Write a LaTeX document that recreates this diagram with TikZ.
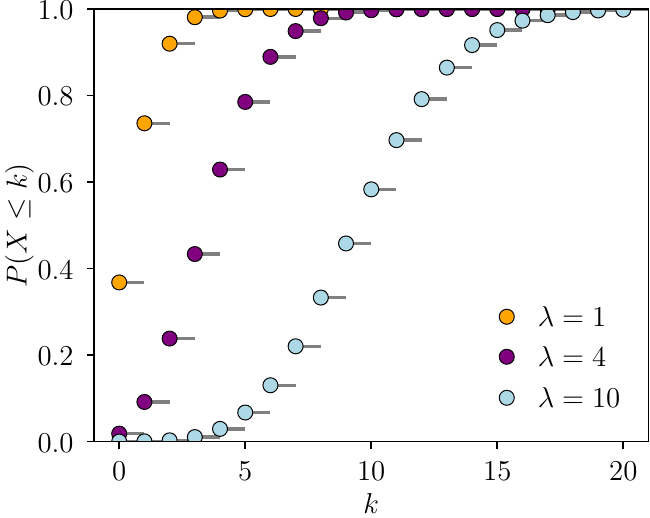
\documentclass[tikz,border=0pt]{standalone}
\definecolor{cOrange}{HTML}{FFA500}
\definecolor{cPurple}{HTML}{800080}
\definecolor{cBlue}{HTML}{ADD8E6}
\definecolor{gray50}{HTML}{808080}
\begin{document}
\begin{tikzpicture}[x=12.6pt,y=216.25pt,
  every node/.style={font=\fontsize{14.4}{17}\selectfont},
  mk/.style={circle,draw=black,line width=0.5pt,inner sep=0pt,minimum size=7.5pt},
  stem/.style={draw=gray50,line width=1.7pt},
  spine/.style={line width=0.8pt,line cap=rect},
  tickmark/.style={line width=0.8pt},
  lab/.style={inner sep=0pt}]
\useasboundingbox (-4.730,-0.17457) rectangle (21.06,1.0208);
\coordinate (ll) at (-1,0);
\coordinate (ur) at (21,1);
\begin{scope}
\clip (ll) rectangle (ur);
% lambda = 1
\foreach \k/\v in {0/0.367879,1/0.735759,2/0.919699,3/0.981012,4/0.996340,5/0.999406,6/0.999917,7/0.999990,8/0.999999,9/1.0,10/1.0,11/1.0,12/1.0,13/1.0,14/1.0,15/1.0,16/1.0,17/1.0,18/1.0,19/1.0,20/1.0}{
  \coordinate (oe\k) at ({\k+1},\v);
  \draw[stem] (\k,\v) -- (oe\k);
  \node[mk,fill=cOrange] (o\k) at (\k,\v) {};
}
% lambda = 4
\foreach \k/\v in {0/0.018316,1/0.091578,2/0.238103,3/0.433470,4/0.628837,5/0.785130,6/0.889326,7/0.948866,8/0.978637,9/0.991868,10/0.997160,11/0.999085,12/0.999726,13/0.999924,14/0.999980,15/0.999995,16/0.999999,17/1.0,18/1.0,19/1.0,20/1.0}{
  \coordinate (pe\k) at ({\k+1},\v);
  \draw[stem] (\k,\v) -- (pe\k);
  \node[mk,fill=cPurple] (p\k) at (\k,\v) {};
}
% lambda = 10
\foreach \k/\v in {0/0.0000454,1/0.000499,2/0.002769,3/0.010336,4/0.029253,5/0.067086,6/0.130141,7/0.220220,8/0.332819,9/0.457929,10/0.583039,11/0.696775,12/0.791555,13/0.864463,14/0.916540,15/0.951258,16/0.972957,17/0.985721,18/0.992812,19/0.996544,20/0.998410}{
  \coordinate (be\k) at ({\k+1},\v);
  \draw[stem] (\k,\v) -- (be\k);
  \node[mk,fill=cBlue] (b\k) at (\k,\v) {};
}
\end{scope}
% axes frame
\draw[spine] (ll) rectangle (ur);
% x ticks
\foreach \t in {0,5,10,15,20}{
  \coordinate (xtk\t) at (\t,0);
  \draw[tickmark] (xtk\t) -- ++(0,-3.5pt);
  \node[lab] (xtl\t) at (\t,-0.0682) {$\t$};
}
% y ticks
\foreach \t/\l [count=\i] in {0/0.0,0.2/0.2,0.4/0.4,0.6/0.6,0.8/0.8,1/1.0}{
  \coordinate (ytk\i) at (-1,\t);
  \draw[tickmark] (ytk\i) -- ++(-3.5pt,0);
  \node[lab,anchor=east] (ytl\i) at ([yshift=-0.6pt]-1.794,\t) {$\l$};
}
% axis labels
\node[rotate=90] (ylab) at (-3.96,0.5) {$P(X\leq k)$};
\node (xlab) at (10,-0.1440) {$k$};
% legend
\node[mk,fill=cOrange] (lg1) at (15.377,0.2885) {};
\node[lab,anchor=west] (lt1) at (16.591,0.2885) {$\lambda=1$};
\node[mk,fill=cPurple] (lg2) at (15.377,0.1960) {};
\node[lab,anchor=west] (lt2) at (16.591,0.1960) {$\lambda=4$};
\node[mk,fill=cBlue] (lg3) at (15.377,0.1012) {};
\node[lab,anchor=west] (lt3) at (16.591,0.1012) {$\lambda=10$};
\end{tikzpicture}
\end{document}
